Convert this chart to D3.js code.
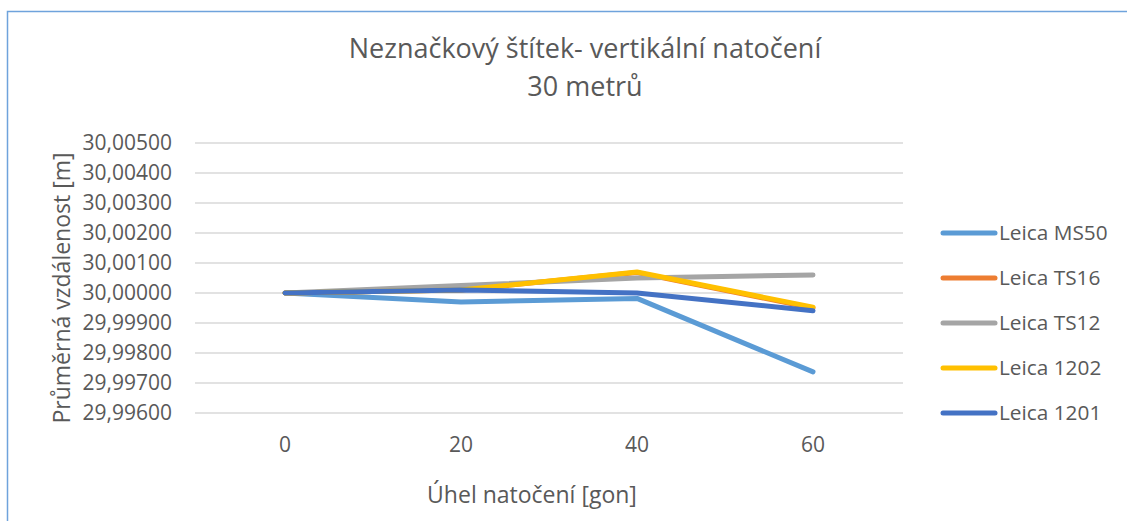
<!DOCTYPE html>
<html>
<head>
<meta charset="utf-8">
<script src="https://cdn.jsdelivr.net/npm/d3@7"></script>
<style>
  body { margin: 0; background: #fff; }
  svg { display: block; }
  text { font-family: "Open Sans", sans-serif; fill: #595959; }
</style>
</head>
<body>
<svg id="chart"></svg>
<script>
const width = 1127
const height = 521

// Data
const angles = ["0", "20", "40", "60"]
const ms50 = [30.00000, 29.99970, 29.99982, 29.99737]
const ts16 = [30.00000, 30.00010, 30.00068, 29.99950]
const ts12 = [30.00000, 30.00025, 30.00050, 30.00060]
const l1202 = [30.00000, 30.00010, 30.00070, 29.99953]
const l1201 = [30.00000, 30.00010, 30.00000, 29.99941]
const seriesNames = ["Leica MS50", "Leica TS16", "Leica TS12", "Leica 1202", "Leica 1201"]
const seriesColors = ["#5B9BD5", "#ED7D31", "#A5A5A5", "#FFC000", "#4472C4"]
const yTicks = [29.996, 29.997, 29.998, 29.999, 30.000, 30.001, 30.002, 30.003, 30.004, 30.005]

const allSeries = [ms50, ts16, ts12, l1202, l1201]

// Layout
const plotLeft = 197
const plotRight = 901
const plotTop = 143
const plotBottom = 413

const svg = d3.select("#chart")
    .attr("width", width)
    .attr("height", height)

// chart frame
svg.append("rect")
    .attr("x", 7.5)
    .attr("y", 11.5)
    .attr("width", width + 20)
    .attr("height", height + 20)
    .attr("fill", "#fff")
    .attr("stroke", "#6FA3DC")
    .attr("stroke-width", 1.5)

const x = d3.scaleBand()
    .domain(angles)
    .range([plotLeft, plotRight])

const y = d3.scaleLinear()
    .domain([29.996, 30.005])
    .range([plotBottom, plotTop])

// gridlines
svg.append("g")
    .selectAll("line")
    .data(yTicks)
    .enter()
    .append("line")
    .attr("x1", plotLeft - 2)
    .attr("x2", plotRight + 2)
    .attr("y1", d => y(d))
    .attr("y2", d => y(d))
    .attr("stroke", "#D9D9D9")
    .attr("stroke-width", 1.3)

// y tick labels
const fmt = d => d.toFixed(5).replace(".", ",")
svg.append("g")
    .selectAll("text")
    .data(yTicks)
    .enter()
    .append("text")
    .attr("x", 172)
    .attr("y", d => y(d))
    .attr("dy", "0.35em")
    .attr("text-anchor", "end")
    .attr("font-size", 21)
    .text(fmt)

// x tick labels
svg.append("g")
    .selectAll("text")
    .data(angles)
    .enter()
    .append("text")
    .attr("x", d => x(d) + x.bandwidth() / 2)
    .attr("y", 452)
    .attr("text-anchor", "middle")
    .attr("font-size", 21)
    .text(d => d)

// lines
const line = d3.line()
    .x((d, i) => x(angles[i]) + x.bandwidth() / 2)
    .y(d => y(d))

svg.append("g")
    .selectAll("path")
    .data(allSeries)
    .enter()
    .append("path")
    .attr("d", line)
    .attr("fill", "none")
    .attr("stroke", (d, i) => seriesColors[i])
    .attr("stroke-width", 5)
    .attr("stroke-linecap", "round")
    .attr("stroke-linejoin", "round")

// legend
const legend = svg.append("g")
    .selectAll("g")
    .data(seriesNames)
    .enter()
    .append("g")
    .attr("transform", (d, i) => `translate(0, ${233 + i * 45})`)

legend.append("line")
    .attr("x1", 943)
    .attr("x2", 995)
    .attr("stroke", (d, i) => seriesColors[i])
    .attr("stroke-width", 5)
    .attr("stroke-linecap", "round")

legend.append("text")
    .attr("x", 999)
    .attr("dy", "0.35em")
    .attr("font-size", 20.8)
    .text(d => d)

// titles
svg.append("text")
    .attr("x", 585)
    .attr("y", 58)
    .attr("text-anchor", "middle")
    .attr("font-size", 27)
    .text("Neznačkový štítek- vertikální natočení")

svg.append("text")
    .attr("x", 585)
    .attr("y", 96)
    .attr("text-anchor", "middle")
    .attr("font-size", 27)
    .text("30 metrů")

svg.append("text")
    .attr("x", 532)
    .attr("y", 503)
    .attr("text-anchor", "middle")
    .attr("font-size", 23)
    .text("Úhel natočení [gon]")

svg.append("text")
    .attr("transform", `translate(70, 288) rotate(-90)`)
    .attr("text-anchor", "middle")
    .attr("font-size", 23)
    .text("Průměrná vzdálenost [m]")
</script>
</body>
</html>
